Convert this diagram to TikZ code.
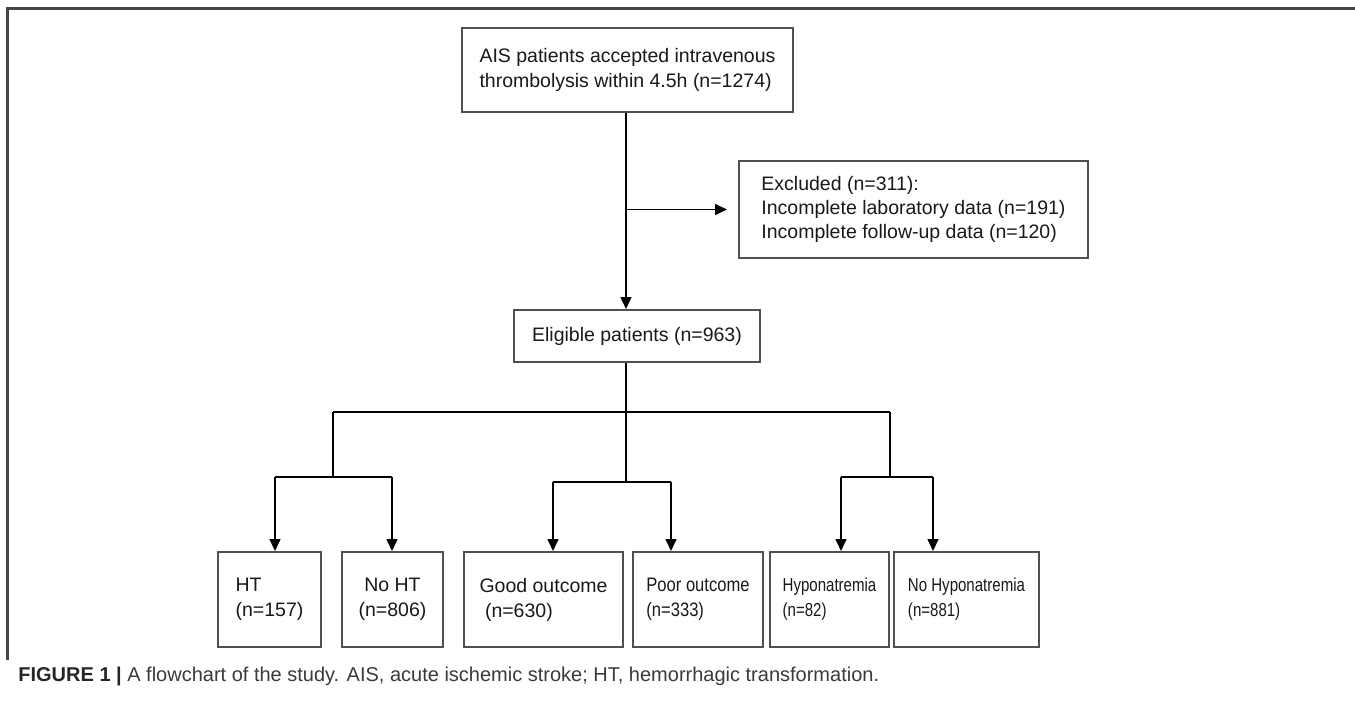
\documentclass[tikz,border=0pt]{standalone}
\usepackage{fontspec}
\setmainfont{Liberation Sans}
\newfontfamily\narrowfont[FakeStretch=0.85]{Liberation Sans}
\newfontfamily\narrowerfont[FakeStretch=0.8]{Liberation Sans}
\usetikzlibrary{arrows.meta}
\definecolor{boxgray}{HTML}{505050}
\definecolor{framegray}{HTML}{454545}
\definecolor{capgray}{HTML}{3A3A3A}
\tikzset{
  box/.style={draw=boxgray, line width=1pt, inner sep=2pt, align=left,
    font=\fontsize{9.75pt}{12.5pt}\selectfont, text=black!90},
  arr/.style={-{Triangle[length=6pt,width=5.5pt]}, line width=0.8pt},
  link/.style={line width=0.8pt}
}
\begin{document}
\begin{tikzpicture}[x=0.5pt,y=-0.5pt]
\useasboundingbox (0,0) rectangle (1355,701);
% frame of the figure
\draw[framegray, line width=1.2pt] (1355,8.5) -- (7.5,8.5) -- (7.5,660);
% boxes
\node[box, minimum width=165.5pt, minimum height=42pt] (start) at (627.5,70)
  {AIS patients accepted intravenous\\thrombolysis within 4.5h (n=1274)};
\node[box, minimum width=174.5pt, minimum height=48.5pt,
  font=\fontsize{9.75pt}{12pt}\selectfont] (excl) at (913.5,209.5)
  {Excluded (n=311):\\Incomplete laboratory data (n=191)\\Incomplete follow-up data (n=120)};
\node[box, minimum width=123pt, minimum height=26pt, align=center] (elig) at (637,336)
  {Eligible patients (n=963)};
\node[box, minimum width=51.5pt, minimum height=47.5pt] (ht) at (269.5,599.5)
  {HT\\(n=157)};
\node[box, minimum width=50.5pt, minimum height=47.5pt, align=center] (noht) at (392.5,599.5)
  {No HT\\(n=806)};
\node[box, minimum width=79.5pt, minimum height=47.5pt] (good) at (543.5,599.5)
  {Good outcome\\\hspace{0.28em}(n=630)};
\node[box, minimum width=65pt, minimum height=47.5pt,
  font=\narrowfont\fontsize{9.75pt}{12.5pt}\selectfont] (poor) at (698,599.5)
  {Poor outcome\\(n=333)};
\node[box, minimum width=59.5pt, minimum height=47.5pt,
  font=\narrowerfont\fontsize{9.4pt}{12.5pt}\selectfont] (hypo) at (829.5,599.5)
  {Hyponatremia\\(n=82)};
\node[box, minimum width=72.5pt, minimum height=47.5pt,
  font=\narrowerfont\fontsize{9.4pt}{12.5pt}\selectfont] (nohypo) at (966.5,599.5)
  {No Hyponatremia\\(n=881)};
% branch points
\coordinate (trunk) at (626,412);
\coordinate (forkA) at (333,412);
\coordinate (forkB) at (626,482);
\coordinate (forkC) at (890,412);
\coordinate (a1) at (275,477);
\coordinate (a2) at (392,477);
\coordinate (b1) at (553,482);
\coordinate (b2) at (671,482);
\coordinate (c1) at (841,477);
\coordinate (c2) at (933,477);
% connectors
\draw[arr] (start.south -| trunk) -- (elig.north -| trunk);
\draw[arr, shorten >=5.5pt] (excl.west -| trunk) -- (excl.west);
\draw[link] (elig.south -| trunk) -- (forkB);
\draw[link] (forkA) -- (forkC);
\draw[link] (forkA) -- (forkA |- a1);
\draw[link] (forkC) -- (forkC |- c1);
\draw[link] (a1) -- (a2);
\draw[link] (b1) -- (b2);
\draw[link] (c1) -- (c2);
\draw[arr] (a1) -- (a1 |- ht.north);
\draw[arr] (a2) -- (a2 |- noht.north);
\draw[arr] (b1) -- (b1 |- good.north);
\draw[arr] (b2) -- (b2 |- poor.north);
\draw[arr] (c1) -- (c1 |- hypo.north);
\draw[arr] (c2) -- (c2 |- nohypo.north);
% caption
\node[anchor=base west, inner sep=0pt, text=capgray,
  font=\fontsize{10pt}{12pt}\selectfont] (caption) at (18,681)
  {\textbf{\color{black!85}FIGURE 1 |} A flowchart of the study. AIS, acute ischemic stroke; HT, hemorrhagic transformation.};
\end{tikzpicture}
\end{document}
